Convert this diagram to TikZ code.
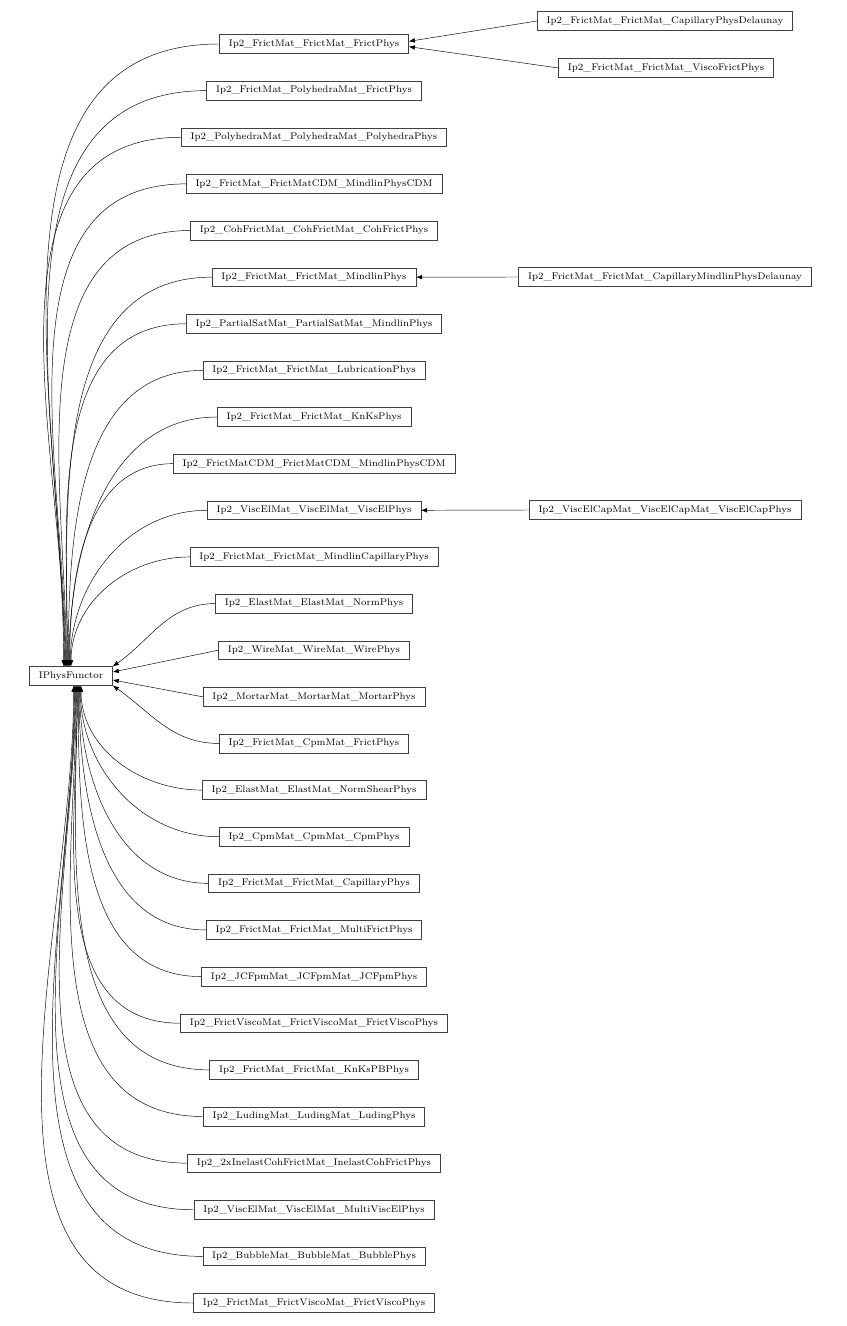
\documentclass[tikz,border=0pt]{standalone}
\usepackage{tikz}
\usetikzlibrary{arrows.meta,positioning}

\begin{document}
\begin{tikzpicture}[
    x=0.75pt, y=-0.75pt,
    cls/.style={draw=black!75, line width=0.4pt, rectangle, inner sep=0pt, minimum height=14pt, inner xsep=7pt, font=\fontsize{7.2}{9}\selectfont},
    inh/.style={-{Latex[length=4.5pt,width=3.5pt]}, black, line width=0.35pt}
]
    \useasboundingbox (0,0) rectangle (846,1326);

    % Base class
    \node[cls] (base) at (71,676) {IPhysFunctor};

    % Derived classes
    \foreach \i/\t in {
        1/Ip2\_FrictMat\_FrictMat\_FrictPhys,
        2/Ip2\_FrictMat\_PolyhedraMat\_FrictPhys,
        3/Ip2\_PolyhedraMat\_PolyhedraMat\_PolyhedraPhys,
        4/Ip2\_FrictMat\_FrictMatCDM\_MindlinPhysCDM,
        5/Ip2\_CohFrictMat\_CohFrictMat\_CohFrictPhys,
        6/Ip2\_FrictMat\_FrictMat\_MindlinPhys,
        7/Ip2\_PartialSatMat\_PartialSatMat\_MindlinPhys,
        8/Ip2\_FrictMat\_FrictMat\_LubricationPhys,
        9/Ip2\_FrictMat\_FrictMat\_KnKsPhys,
        10/Ip2\_FrictMatCDM\_FrictMatCDM\_MindlinPhysCDM,
        11/Ip2\_ViscElMat\_ViscElMat\_ViscElPhys,
        12/Ip2\_FrictMat\_FrictMat\_MindlinCapillaryPhys,
        13/Ip2\_ElastMat\_ElastMat\_NormPhys,
        14/Ip2\_WireMat\_WireMat\_WirePhys,
        15/Ip2\_MortarMat\_MortarMat\_MortarPhys,
        16/Ip2\_FrictMat\_CpmMat\_FrictPhys,
        17/Ip2\_ElastMat\_ElastMat\_NormShearPhys,
        18/Ip2\_CpmMat\_CpmMat\_CpmPhys,
        19/Ip2\_FrictMat\_FrictMat\_CapillaryPhys,
        20/Ip2\_FrictMat\_FrictMat\_MultiFrictPhys,
        21/Ip2\_JCFpmMat\_JCFpmMat\_JCFpmPhys,
        22/Ip2\_FrictViscoMat\_FrictViscoMat\_FrictViscoPhys,
        23/Ip2\_FrictMat\_FrictMat\_KnKsPBPhys,
        24/Ip2\_LudingMat\_LudingMat\_LudingPhys,
        25/Ip2\_2xInelastCohFrictMat\_InelastCohFrictPhys,
        26/Ip2\_ViscElMat\_ViscElMat\_MultiViscElPhys,
        27/Ip2\_BubbleMat\_BubbleMat\_BubblePhys,
        28/Ip2\_FrictMat\_FrictViscoMat\_FrictViscoPhys} {
        \node[cls] (m\i) at (314, 44+46.63*\i-46.63) {\t};
    }

    % Edges to base
    \foreach \i in {1,...,12} {
        \draw[inh] (m\i.west) to[out=180, in=90] ([xshift={-6+\i*0.5}] base.north);
    }
    \draw[inh] (m13.west) to[out=180, in=35] (base.north east);
    \draw[inh] (m14.west) -- ([yshift=3pt] base.east);
    \draw[inh] (m15.west) -- ([yshift=-3pt] base.east);
    \draw[inh] (m16.west) to[out=180, in=-35] (base.south east);
    \foreach \i in {17,...,28} {
        \draw[inh] (m\i.west) to[out=180, in=-90] ([xshift={8-(\i-16)*0.5}] base.south);
    }

    % Second level
    \node[cls] (r1) at (665,21) {Ip2\_FrictMat\_FrictMat\_CapillaryPhysDelaunay};
    \node[cls] (r2) at (666,68) {Ip2\_FrictMat\_FrictMat\_ViscoFrictPhys};
    \node[cls] (r3) at (665,277) {Ip2\_FrictMat\_FrictMat\_CapillaryMindlinPhysDelaunay};
    \node[cls] (r4) at (665,510) {Ip2\_ViscElCapMat\_ViscElCapMat\_ViscElCapPhys};

    \draw[inh] (r1.west) -- ([yshift=2pt] m1.east);
    \draw[inh] (r2.west) -- ([yshift=-2pt] m1.east);
    \draw[inh] (r3.west) -- (m6.east);
    \draw[inh] (r4.west) -- (m11.east);
\end{tikzpicture}
\end{document}
